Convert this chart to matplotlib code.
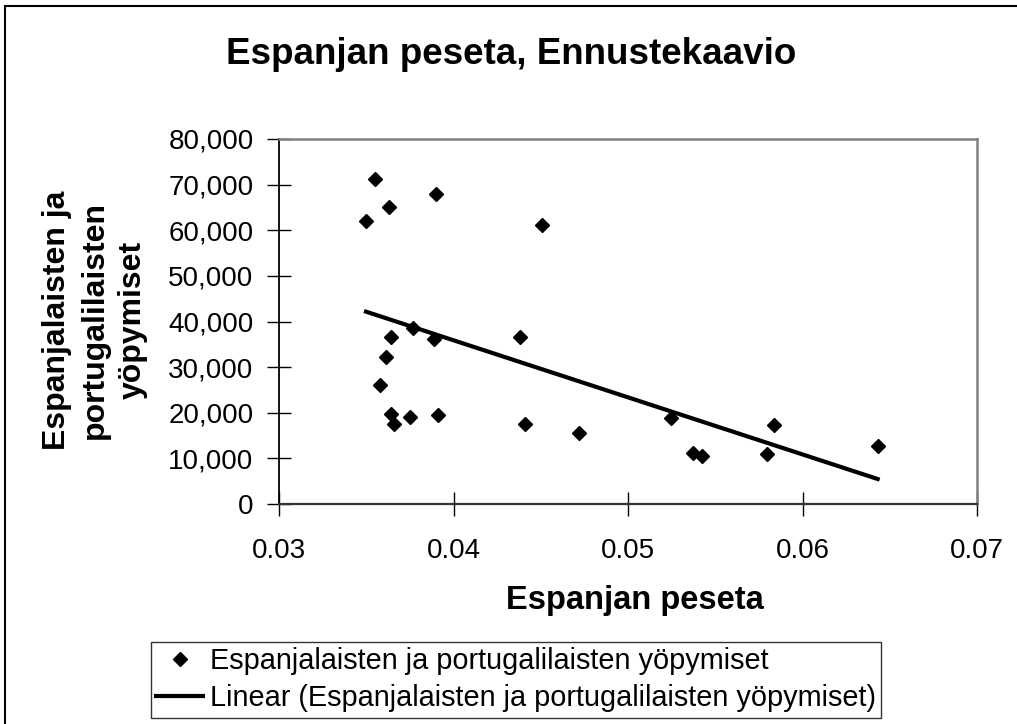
import numpy as np
import matplotlib
matplotlib.use("Agg")
import matplotlib.pyplot as plt
from matplotlib.patches import Rectangle
from matplotlib.ticker import FuncFormatter

plt.rcParams['font.family'] = ['Liberation Sans', 'DejaVu Sans']

# exchange rate (ESP) vs overnight stays of Spanish and Portuguese visitors
peseta = [0.03548, 0.03497, 0.03630, 0.03898, 0.04505,
          0.03640, 0.03768, 0.03887, 0.03611, 0.03579,
          0.03642, 0.03657, 0.03749, 0.03909, 0.04379,
          0.04406, 0.04716, 0.05245, 0.05368, 0.05421,
          0.05797, 0.05836, 0.06429]
stays = [71160, 62080, 65020, 67870, 61070,
         36640, 38490, 36210, 32130, 26050,
         19630, 17430, 19100, 19470, 36640,
         17500, 15500, 18750, 11070, 10480,
         11000, 17350, 12680]

x_ticks = [0.03, 0.04, 0.05, 0.06, 0.07]
y_ticks = [0, 10000, 20000, 30000, 40000, 50000, 60000, 70000, 80000]

series_name = "Espanjalaisten ja portugalilaisten yöpymiset"
title = "Espanjan peseta, Ennustekaavio"
x_label = "Espanjan peseta"
y_label = "Espanjalaisten ja\nportugalilaisten\nyöpymiset"

W, H = 1017, 724
fig = plt.figure(figsize=(W / 100, H / 100), dpi=100)
ax = fig.add_axes([279.3 / W, 1 - 504 / H, (977.3 - 279.3) / W, (504 - 139) / H])

# scatter points
ax.plot(peseta, stays, linestyle='none', marker='D', markersize=7.5,
        color='black', label=series_name, clip_on=False)

# linear trend line over data range
xs = np.array(peseta)
k, b = np.polyfit(xs, np.array(stays), 1)
tx = np.array([xs.min(), xs.max()])
ax.plot(tx, k * tx + b, color='black', lw=3,
        label=f"Linear ({series_name})")

ax.set_xlim(x_ticks[0], x_ticks[-1])
ax.set_ylim(y_ticks[0], y_ticks[-1])
ax.set_xticks(x_ticks)
ax.set_yticks(y_ticks)
ax.xaxis.set_major_formatter(FuncFormatter(lambda v, p: f"{v:.2f}"))
ax.yaxis.set_major_formatter(FuncFormatter(lambda v, p: f"{v:,.0f}"))
ax.tick_params(axis='both', direction='inout', length=17, width=1,
               labelsize=20, color='black')
ax.tick_params(axis='x', pad=16)
ax.tick_params(axis='y', pad=10)

ax.spines['left'].set_color('black')
ax.spines['left'].set_linewidth(1.3)
ax.spines['bottom'].set_color('#333333')
ax.spines['bottom'].set_linewidth(1.6)
for s in ['top', 'right']:
    ax.spines[s].set_color('#808080')
    ax.spines[s].set_linewidth(1.8)

fig.text(511 / W, 1 - 64 / H, title, ha='center', va='baseline',
         fontsize=26.5, fontweight='bold')
fig.text(635 / W, 1 - 609 / H, x_label, ha='center', va='baseline',
         fontsize=23.5, fontweight='bold')
fig.text(95 / W, 1 - 320 / H, y_label, ha='center', va='center',
         rotation=90, multialignment='center', linespacing=1.35,
         fontsize=23, fontweight='bold')

leg = fig.legend(loc='upper center', bbox_to_anchor=(516 / W, 1 - 642 / H),
                 bbox_transform=fig.transFigure, fontsize=20.8,
                 frameon=True, fancybox=False, borderpad=0.18,
                 handlelength=1.63, handletextpad=0.24, labelspacing=0.32,
                 borderaxespad=0)
leg.get_frame().set_edgecolor('black')
leg.get_frame().set_linewidth(1.0)

# outer chart border
fig.patches.append(Rectangle((5 / W, -0.1), 1.2, 1.1 - 6 / H,
                             transform=fig.transFigure, fill=False,
                             edgecolor='black', lw=1.5))

fig.savefig("out.png", dpi=100)
